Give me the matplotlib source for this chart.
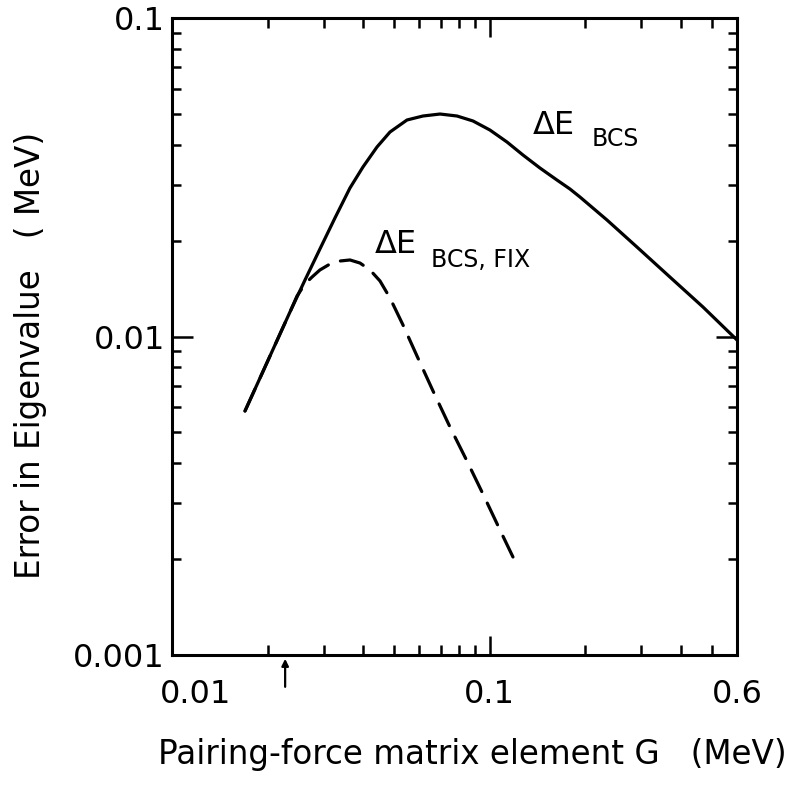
import matplotlib
matplotlib.use("Agg")
import matplotlib.pyplot as plt
import matplotlib.transforms as mtransforms
from matplotlib.ticker import LogLocator, NullFormatter

# ---- data ----
g_bcs = [0.01697, 0.01892, 0.02109, 0.02351, 0.02621, 0.02921, 0.03257, 0.03631,
         0.03990, 0.04417, 0.04853, 0.05489, 0.06163, 0.06974, 0.07887, 0.08855,
         0.1001, 0.1133, 0.1272, 0.1438, 0.1627, 0.1788, 0.1922, 0.2338,
         0.2905, 0.3690, 0.4687, 0.600]
e_bcs = [0.005836, 0.007407, 0.009404, 0.01194, 0.01504, 0.01883, 0.02356, 0.02926,
         0.03406, 0.03936, 0.04386, 0.04784, 0.04924, 0.04995, 0.04924, 0.04750,
         0.04450, 0.04080, 0.03714, 0.03382, 0.03100, 0.02905, 0.02742, 0.02322,
         0.01910, 0.01537, 0.01238, 0.00975]

g_fix = [0.01697, 0.01892, 0.02109, 0.02351, 0.02474, 0.02621, 0.02758, 0.02921,
         0.03142, 0.03379, 0.03631, 0.03904, 0.04198, 0.04514, 0.04853, 0.05332,
         0.05902, 0.06628, 0.07495, 0.08478, 0.09519, 0.1077, 0.1183]
e_fix = [0.005836, 0.007407, 0.009404, 0.01194, 0.01340, 0.01462, 0.01537, 0.01618,
         0.01689, 0.01726, 0.01739, 0.01701, 0.01618, 0.01494, 0.01321, 0.01087,
         0.008685, 0.006745, 0.005198, 0.004065, 0.003202, 0.002469, 0.002031]

x_ticks = [0.01, 0.1, 0.6]
x_ticklabels = ["0.01", "0.1", "0.6"]
y_ticks = [0.001, 0.01, 0.1]
y_ticklabels = ["0.001", "0.01", "0.1"]
arrow_g = 0.0227

plt.rcParams['font.family'] = ['DejaVu Sans']

fig = plt.figure(figsize=(7.96, 7.90), dpi=100)
ax = fig.add_axes([0.2161, 0.1709, 0.7098, 0.8063])
ax.set_xscale('log')
ax.set_yscale('log')

ax.plot(g_bcs, e_bcs, color='black', lw=2.3,
        solid_capstyle='round', solid_joinstyle='round')
ax.plot(g_fix, e_fix, color='black', lw=2.3, dashes=(7.5, 4.0),
        dash_capstyle='round', dash_joinstyle='round')

ax.set_xlim(0.01, 0.6)
ax.set_ylim(0.001, 0.1)

ax.set_xticks(x_ticks)
ax.set_xticklabels(x_ticklabels)
ax.set_yticks(y_ticks)
ax.set_yticklabels(y_ticklabels)
ax.xaxis.set_minor_locator(LogLocator(base=10, subs=[2, 3, 4, 5, 6, 7, 8, 9], numticks=20))
ax.yaxis.set_minor_locator(LogLocator(base=10, subs=[2, 3, 4, 5, 6, 7, 8, 9], numticks=20))
ax.xaxis.set_minor_formatter(NullFormatter())
ax.yaxis.set_minor_formatter(NullFormatter())

ax.tick_params(which='both', direction='in', top=True, right=True, width=1.8,
               color='black')
ax.tick_params(axis='x', which='major', length=13.5, labelsize=23, pad=17)
ax.tick_params(axis='x', which='minor', length=7)
ax.tick_params(axis='y', which='major', length=15, labelsize=23, pad=5)
ax.tick_params(axis='y', which='minor', length=6.5)

for sp in ax.spines.values():
    sp.set_linewidth(2.2)

# shift the first x tick label to the right as in the reference
first = ax.xaxis.get_major_ticks()[0].label1
first.set_transform(first.get_transform() +
                    mtransforms.ScaledTranslation(0.24, 0, fig.dpi_scale_trans))

ax.set_xlabel("Pairing-force matrix element G   (MeV)", fontsize=23.5)
ax.xaxis.label.set_va('center')
ax.xaxis.set_label_coords(0.531, -0.157)

ax.set_ylabel("Error in Eigenvalue   ( MeV)", fontsize=23.5)
ax.yaxis.label.set_va('center')
ax.yaxis.set_label_coords(-0.251, 0.471)

# curve labels
ax.text(0.1367, 0.0461, "ΔE", fontsize=23, va='center', ha='left')
ax.text(0.2097, 0.0417, "BCS", fontsize=17, va='center', ha='left')
ax.text(0.04352, 0.01938, "ΔE", fontsize=23, va='center', ha='left')
ax.text(0.0653, 0.01739, "BCS, FIX", fontsize=17, va='center', ha='left')

# arrow below the axis
ax.annotate('', xy=(arrow_g, -0.006), xycoords=('data', 'axes fraction'),
            xytext=(arrow_g, -0.050), textcoords=('data', 'axes fraction'),
            arrowprops=dict(arrowstyle='-|>', color='black', lw=1.6,
                            mutation_scale=10, shrinkA=0, shrinkB=0),
            annotation_clip=False)

fig.savefig("out.png", dpi=100)
